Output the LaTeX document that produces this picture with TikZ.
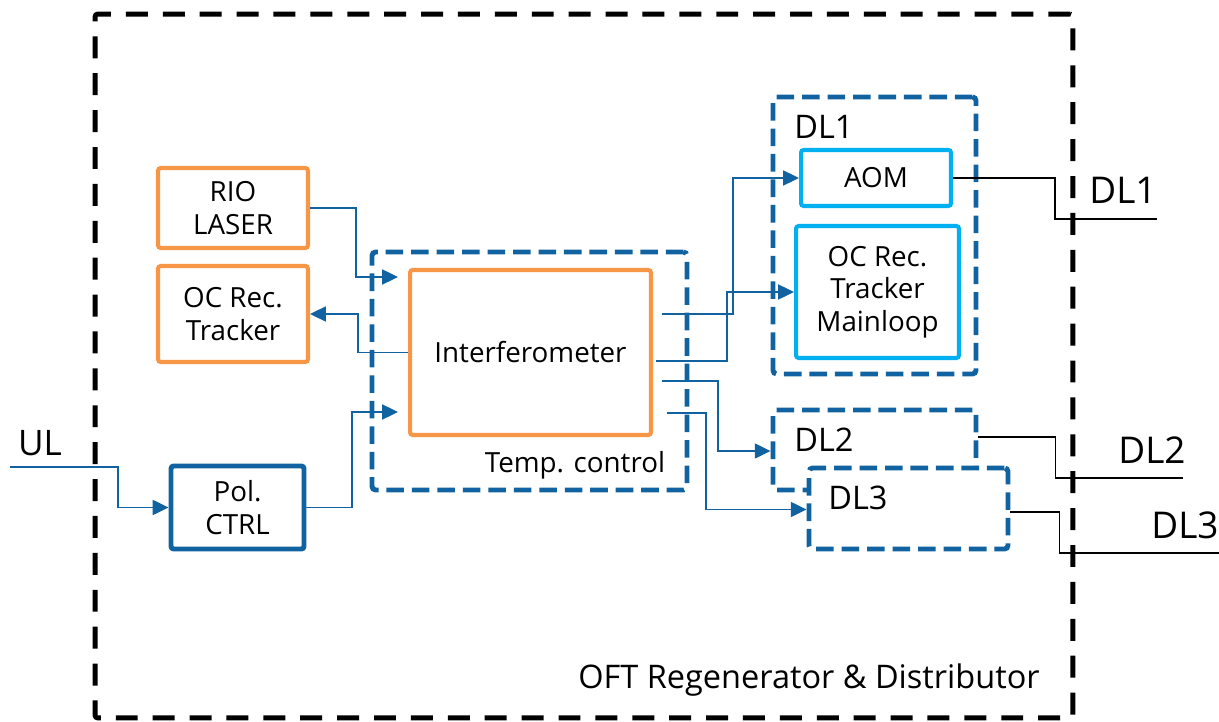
\documentclass[tikz,border=0pt]{standalone}
\usepackage{fontspec}
\setmainfont{Open Sans}
\usetikzlibrary{arrows.meta,calc}

\definecolor{oftorange}{RGB}{247,150,70}
\definecolor{oftblue}{RGB}{17,98,160}
\definecolor{oftcyan}{RGB}{0,176,240}

\tikzset{
    txt/.style={font=\fontsize{15.8}{18.5}\selectfont, align=center, inner sep=0pt},
    midtxt/.style={font=\fontsize{18.5}{22}\selectfont, inner sep=0pt},
    bigtxt/.style={font=\fontsize{21}{24}\selectfont, inner sep=0pt},
    orangebox/.style={txt, draw=oftorange, line width=2.3pt, rounded corners=1.5pt},
    cyanbox/.style={txt, draw=oftcyan, line width=2.3pt, rounded corners=1.5pt},
    polbox/.style={txt, draw=oftblue, line width=2.8pt, rounded corners=1.5pt},
    groupbox/.style={draw=oftblue, line width=2.8pt, dash pattern=on 10pt off 4.5pt, rounded corners=2pt},
    outerbox/.style={draw=black, line width=2.8pt, dash pattern=on 12.5pt off 8.5pt, rounded corners=1.5pt},
    link/.style={draw=oftblue, line width=1.1pt},
    linkarrow/.style={link, -{Triangle[length=9pt,width=8.5pt]}},
    outlink/.style={draw=black, line width=0.9pt}
}

\begin{document}
\begin{tikzpicture}[x=0.02cm, y=-0.02cm]
    \useasboundingbox (0,0) rectangle (1219,722);

    % Outer frame
    \node[outerbox, minimum width=19.56cm, minimum height=14.08cm] (regen) at (584,366) {};
    \node[midtxt] (regenlbl) at (809,680) {OFT Regenerator \& Distributor};

    % Temperature controlled group
    \node[groupbox, minimum width=6.3cm, minimum height=4.76cm] (temp) at (529.5,371) {};
    \node[txt] (templbl) at (575,465) {Temp. control};

    % Left column
    \node[orangebox, minimum width=3.0cm, minimum height=1.6cm] (rio) at (233,208) {RIO\\LASER};
    \node[orangebox, minimum width=3.0cm, minimum height=1.92cm] (octrack) at (233,314) {OC Rec.\\Tracker};
    \node[polbox, minimum width=2.66cm, minimum height=1.66cm] (pol) at (237.5,507.5) {Pol.\\CTRL};
    \node[orangebox, minimum width=4.82cm, minimum height=3.3cm] (interf) at (530.5,352.5) {Interferometer};

    % Downlink groups
    \node[groupbox, minimum width=4.06cm, minimum height=5.54cm] (dlone) at (874.5,235.5) {};
    \node[midtxt, anchor=west] (dlonelbl) at (794,127) {DL1};
    \node[cyanbox, minimum width=3.0cm, minimum height=1.12cm] (aom) at (876,178) {AOM};
    \node[cyanbox, minimum width=3.26cm, minimum height=2.64cm] (mainloop) at (877.5,292) {OC Rec.\\Tracker\\Mainloop};
    \node[groupbox, minimum width=4.06cm, minimum height=1.6cm] (dltwo) at (874.5,450) {};
    \node[midtxt, anchor=west] (dltwolbl) at (794,440) {DL2};
    \node[groupbox, fill=white, minimum width=3.98cm, minimum height=1.62cm] (dlthree) at (908.5,508.5) {};
    \node[midtxt, anchor=west] (dlthreelbl) at (828,498) {DL3};

    % Interferometer output ports
    \coordinate (outa) at (662,314);
    \coordinate (outb) at (656,361);
    \coordinate (outc) at (662,381);
    \coordinate (outd) at (667,413);

    % Blue fibre links
    \draw[linkarrow] (rio.east) -- ++(46,0) |- ($(interf.north west)+(-10,9)$);
    \draw[linkarrow] (interf.west) -- ++(-50,0) |- (octrack.east);
    \draw[linkarrow] (pol.east) -- ++(46,0) |- ($(interf.south west)+(-10,-25)$);
    \draw[linkarrow] (outa) -- ++(71,0) |- (aom.west);
    \draw[linkarrow] (outb) -- ++(71,0) |- (mainloop.west);
    \draw[linkarrow] (outc) -- ++(56,0) |- ($(dltwo.west)+(0,1)$);
    \draw[linkarrow] (outd) -- ++(39,0) |- ($(dlthree.west)+(0,1)$);

    % Uplink input
    \coordinate (ulin) at (10,467);
    \node[bigtxt, font=\fontsize{20}{24}\selectfont] (ullbl) at (40,443) {UL};
    \draw[linkarrow] (ulin) -- ++(108,0) |- (pol.west);

    % Downlink outputs
    \coordinate (dloneout) at (1157,219);
    \coordinate (dltwoout) at (1183,478);
    \coordinate (dlthreeout) at (1219,553);
    \draw[outlink] (aom.east) -- ++(102,0) |- (dloneout);
    \draw[outlink] ($(dltwo.east)+(0,-13)$) -- ++(77,0) |- (dltwoout);
    \draw[outlink] ($(dlthree.east)+(0,3.5)$) -- ++(49,0) |- (dlthreeout);
    \node[bigtxt] (dloneext) at (1123,190) {DL1};
    \node[bigtxt] (dltwoext) at (1152,450) {DL2};
    \node[bigtxt] (dlthreeext) at (1185,525) {DL3};
\end{tikzpicture}
\end{document}
